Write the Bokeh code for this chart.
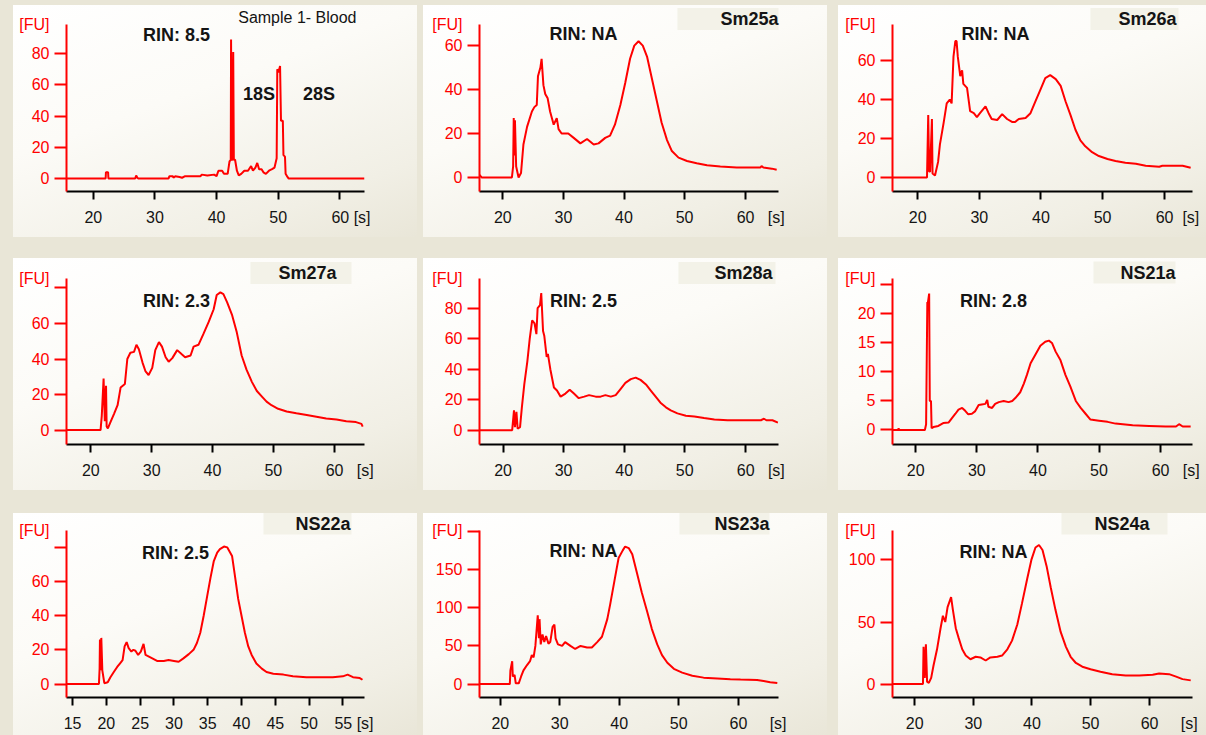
from bokeh.plotting import figure
from bokeh.layouts import column, row
from bokeh.models import Label, Spacer, FixedTicker
from bokeh.embed import file_html
from bokeh.resources import INLINE

# ---------------- data (time [s], fluorescence [FU]) ----------------
blood_trace = [(15.65, 0), (22.0, 0), (22.05, 4), (22.4, 4), (22.45, 0), (26.8, 0), (26.95, 2), (27.15, 0.5),
               (27.3, 0), (32.2, 0), (32.35, 1.5), (32.9, 1.5), (33.0, 0.5), (33.3, 1.5), (34.0, 1), (34.4, 0.5),
               (34.9, 1.5), (37.4, 1.5), (37.6, 2.5), (38.5, 2), (39.6, 2.5), (40.0, 1.5), (40.3, 5), (40.9, 5),
               (41.2, 3), (41.8, 3), (42.1, 11), (42.3, 12), (42.35, 89), (42.45, 12), (42.6, 12), (42.7, 81),
               (42.8, 12), (43.0, 12), (43.3, 5), (43.6, 2), (44.0, 3), (44.5, 5), (45.1, 5), (45.6, 8),
               (45.9, 5), (46.3, 7), (46.6, 10), (46.9, 6), (47.3, 6), (47.6, 4), (48.0, 3), (48.5, 5),
               (49.0, 6), (49.4, 7), (49.75, 13), (49.85, 70), (50.05, 68), (50.3, 72), (50.45, 37), (50.75, 37),
               (50.85, 15), (51.1, 14), (51.2, 3), (51.5, 1), (51.7, 0), (64.0, 0)]

sm25a_trace = [(16.15, 1.2), (16.5, 0), (21.5, 0), (21.7, 5), (21.8, 27), (21.9, 10), (22.0, 26), (22.2, 5),
               (22.6, 0), (23.0, 2), (23.4, 15), (24.0, 23), (24.8, 30), (25.2, 32), (25.6, 33), (25.8, 46),
               (26.2, 50), (26.4, 54), (26.7, 42), (27.0, 38), (27.4, 36), (27.8, 30), (28.4, 24), (28.9, 27),
               (29.2, 22), (29.7, 20), (30.8, 20), (31.7, 18), (32.8, 15.5), (33.9, 17.5), (35.0, 15),
               (35.8, 15.5), (36.9, 18), (37.7, 19), (38.5, 24), (39.4, 33), (40.2, 43), (41.0, 54), (41.7, 60),
               (42.4, 62), (43.1, 60), (43.8, 55), (44.6, 45), (45.4, 35), (46.2, 25), (47.1, 17), (47.9, 12),
               (49.0, 9), (50.4, 7.5), (52.0, 6.5), (53.7, 5.5), (55.9, 5), (58.6, 4.5), (62.5, 4.5),
               (62.7, 5.2), (63.0, 4.5), (64.4, 4), (65.2, 3.5)]

sm26a_trace = [(15.9, 0), (21.5, 0), (21.7, 32), (21.85, 3), (22.0, 3), (22.3, 30), (22.4, 2), (22.8, 1),
               (23.3, 8), (23.6, 17), (24.2, 28), (24.7, 38), (25.2, 40), (25.5, 38), (25.8, 62), (26.1, 70),
               (26.3, 70), (26.5, 62), (26.9, 52), (27.2, 55), (27.4, 48), (28.0, 46), (28.5, 34), (29.1, 33),
               (29.6, 31), (30.1, 33), (31.0, 36.5), (31.5, 33), (32.0, 30), (32.9, 29.5), (33.7, 32.5),
               (34.5, 30), (35.3, 28.5), (35.8, 28.5), (36.4, 30), (37.5, 30.5), (38.3, 33), (39.1, 39),
               (39.9, 45), (40.7, 51), (41.5, 52.5), (42.4, 50.5), (43.2, 47), (44.0, 39), (44.8, 32),
               (45.6, 24.5), (46.4, 19), (47.2, 16), (48.3, 13), (49.4, 11), (50.8, 9.5), (52.1, 8.5),
               (53.7, 7.5), (55.4, 7), (57.0, 6), (59.2, 5.5), (59.7, 6), (63.0, 6), (64.3, 5)]

sm27a_trace = [(16.0, 0), (21.6, 0), (21.8, 8), (22.1, 29), (22.3, 5), (22.5, 25), (22.6, 2), (22.8, 1),
               (23.3, 5), (23.8, 9), (24.4, 14), (24.9, 24), (25.6, 26), (26.0, 40), (26.5, 43.5), (27.1, 44),
               (27.5, 48), (27.9, 45.5), (28.5, 38), (29.0, 33), (29.5, 31), (30.1, 35), (30.6, 45),
               (31.2, 49.5), (31.7, 47), (32.3, 41), (32.8, 38.5), (33.4, 40.5), (34.2, 45), (35.0, 42.5),
               (35.5, 41), (36.4, 42), (36.9, 47), (37.7, 48), (38.5, 54), (39.4, 61), (40.2, 68), (40.7, 76),
               (41.3, 77.5), (41.8, 76.5), (42.4, 72), (43.2, 65), (44.0, 55), (44.8, 42), (45.6, 34),
               (46.5, 27), (47.3, 22), (48.1, 19), (48.9, 16), (49.7, 14), (50.8, 12), (52.2, 10.5),
               (53.8, 9.5), (55.5, 8.5), (57.1, 7.5), (58.7, 6.5), (60.4, 6), (62.0, 5), (63.6, 4.5),
               (64.5, 3.5), (64.7, 2)]

sm28a_trace = [(16.1, 0), (21.5, 0), (21.8, 13), (21.95, 2), (22.2, 12), (22.4, 1), (22.8, 2), (23.1, 15),
               (23.5, 30), (24.0, 45), (24.4, 60), (24.8, 72), (25.2, 70), (25.5, 63), (25.7, 80), (26.1, 82),
               (26.3, 90), (26.6, 65), (26.8, 62), (27.2, 48), (27.4, 50), (27.8, 40), (28.4, 28), (28.9, 26),
               (29.5, 22), (30.3, 24), (31.0, 26.5), (31.7, 24), (32.5, 21), (33.4, 22), (34.2, 23),
               (35.3, 22), (36.1, 22), (36.9, 23), (37.8, 22), (38.6, 23), (39.4, 27), (40.2, 31),
               (41.1, 33.5), (41.9, 34.5), (42.7, 33), (43.6, 30), (44.4, 26), (45.2, 22), (46.0, 18),
               (46.9, 15), (47.7, 13), (48.8, 11), (50.2, 9.5), (51.6, 9), (53.2, 8), (54.9, 7), (57.1, 6.5),
               (59.8, 6.5), (62.6, 6.5), (63.1, 7.5), (63.5, 6.5), (64.5, 6.5), (65.4, 5)]

ns21a_trace = [(16.2, 0), (17.1, 0), (17.2, 0.3), (17.3, 0), (21.5, 0), (21.7, 1), (21.9, 22), (22.0, 22),
               (22.2, 23.5), (22.3, 5), (22.5, 5), (22.6, 0.3), (22.9, 0.5), (23.7, 0.7), (24.5, 1.2),
               (25.4, 1.3), (25.9, 2), (26.5, 2.8), (27.0, 3.5), (27.6, 3.8), (28.1, 3.3), (28.6, 2.7),
               (29.2, 2.8), (29.7, 3.2), (30.3, 4.3), (30.8, 4.4), (31.4, 4.5), (31.7, 5.2), (31.9, 4),
               (32.5, 3.8), (33.0, 4.5), (33.6, 4.8), (34.4, 5), (35.2, 4.8), (35.8, 5), (36.3, 5.5),
               (37.1, 6.5), (37.7, 8), (38.2, 9.5), (38.8, 11.5), (39.6, 13), (40.4, 14.5), (41.2, 15.2),
               (41.8, 15.4), (42.3, 15), (42.9, 13.5), (43.7, 12), (44.5, 9.5), (45.3, 7.5), (46.2, 5),
               (47.0, 3.8), (47.8, 2.8), (48.6, 1.8), (50.0, 1.6), (51.4, 1.4), (52.7, 1.1), (55.5, 0.8),
               (58.2, 0.7), (60.9, 0.6), (62.6, 0.6), (63.1, 1.0), (63.7, 0.6), (65.0, 0.6)]

ns22a_trace = [(14.1, 0), (18.9, 0), (19.0, 9), (19.05, 26), (19.15, 8), (19.25, 27), (19.4, 8), (19.7, 0.5),
               (20.2, 1), (20.6, 4), (21.1, 7), (21.6, 10), (22.0, 12), (22.4, 14), (22.7, 22), (23.0, 24.5),
               (23.3, 21), (23.7, 19), (24.0, 20), (24.3, 19.5), (24.7, 17), (25.1, 19), (25.5, 23.5),
               (25.8, 17), (26.3, 16), (26.8, 15), (27.5, 13.5), (28.5, 13.5), (29.2, 14), (30.0, 13.5),
               (30.7, 13), (31.4, 15), (32.2, 17.5), (32.9, 20), (33.4, 24), (33.9, 30), (34.4, 40),
               (34.9, 51), (35.4, 62), (35.9, 72), (36.4, 77), (36.8, 79), (37.4, 80.5), (37.9, 80),
               (38.6, 75), (39.0, 64), (39.5, 50), (40.0, 40), (40.5, 30), (41.0, 22), (41.5, 17), (42.2, 12),
               (43.0, 9), (43.7, 7), (44.7, 6), (46.2, 5.5), (47.6, 4.5), (49.6, 4), (51.6, 4), (53.5, 4),
               (55.0, 4.5), (55.7, 5.5), (56.5, 4), (57.5, 3.5), (57.9, 2.5)]

ns23a_trace = [(16.5, 0), (21.6, 0), (21.7, 18), (22.0, 30), (22.1, 10), (22.4, 12), (22.6, 1), (23.1, 1),
               (23.5, 10), (23.9, 18), (24.5, 25), (25.0, 30), (25.3, 38), (25.6, 35), (25.9, 50), (26.1, 70),
               (26.3, 90), (26.5, 60), (26.6, 85), (26.8, 52), (27.1, 65), (27.4, 55), (27.7, 63), (28.1, 53),
               (28.4, 55), (28.8, 75), (29.1, 78), (29.3, 60), (29.7, 52), (30.4, 50), (30.9, 55), (31.8, 50),
               (32.6, 46), (33.5, 50), (34.6, 48), (35.4, 48), (36.3, 55), (37.1, 62), (38.0, 85),
               (38.5, 105), (39.2, 135), (39.9, 165), (40.6, 175), (41.0, 180), (41.6, 178), (42.2, 170),
               (43.0, 145), (43.8, 120), (44.7, 95), (45.5, 72), (46.4, 52), (47.2, 38), (48.1, 28),
               (49.2, 20), (50.6, 15), (52.3, 11), (54.2, 8.5), (56.5, 7.5), (58.7, 6.5), (60.4, 6),
               (63.2, 5.5), (64.3, 4), (65.4, 2.5), (66.6, 1.5)]

ns24a_trace = [(16.2, 0), (21.4, 0), (21.5, 30), (21.7, 5), (21.9, 32), (22.1, 2), (22.4, 1), (22.8, 5),
               (23.2, 15), (23.8, 28), (24.4, 45), (24.8, 55), (25.2, 50), (25.6, 62), (25.9, 66), (26.2, 70),
               (26.5, 60), (27.0, 45), (27.5, 37), (28.1, 28), (28.7, 23), (29.5, 20), (30.4, 22),
               (31.2, 21.5), (32.1, 19), (32.9, 21.5), (34.1, 22), (34.9, 23), (35.8, 28), (36.6, 35),
               (37.5, 48), (38.3, 65), (39.2, 85), (39.9, 100), (40.6, 110), (41.2, 112), (41.8, 108),
               (42.5, 95), (43.2, 78), (44.0, 60), (44.9, 42), (45.8, 30), (46.6, 22), (47.5, 17), (48.6, 14),
               (50.0, 12), (51.7, 10), (53.7, 8), (56.0, 7), (58.3, 7), (60.6, 7.5), (61.7, 8.5), (63.4, 8),
               (64.6, 6), (65.7, 4), (67.1, 3)]

sample_names = ["Sample 1- Blood", "Sm25a", "Sm26a", "Sm27a", "Sm28a", "NS21a", "NS22a", "NS23a", "NS24a"]
rin_texts = ["RIN: 8.5", "RIN: NA", "RIN: NA", "RIN: 2.3", "RIN: 2.5", "RIN: 2.8", "RIN: 2.5", "RIN: NA", "RIN: NA"]
traces = [blood_trace, sm25a_trace, sm26a_trace, sm27a_trace, sm28a_trace,
          ns21a_trace, ns22a_trace, ns23a_trace, ns24a_trace]
x_limits = [(15.65, 64.0), (16.15, 65.5), (15.9, 64.6), (16.0, 65.0), (16.1, 65.5),
            (16.2, 65.3), (14.1, 58.2), (16.5, 66.8), (16.2, 67.4)]
y_limits = [(-8.3, 98.6), (-6.4, 69.6), (-7.2, 78.5), (-8.1, 85.3), (-9.4, 99.5),
            (-2.5, 26.1), (-7.9, 89.9), (-17.5, 201.0), (-10.8, 123.7)]
y_ticks = [[0, 20, 40, 60, 80], [0, 20, 40, 60], [0, 20, 40, 60], [0, 20, 40, 60, 80], [0, 20, 40, 60, 80],
           [0, 5, 10, 15, 20, 25], [0, 20, 40, 60, 80], [0, 50, 100, 150, 200], [0, 50, 100]]
y_unlabeled = [None, None, None, 80, None, 25, 80, 200, None]
x_ticks_std = [20, 30, 40, 50, 60]
x_ticks_ns22a = [15, 20, 25, 30, 35, 40, 45, 50, 55]
peak_names = ["18S", "28S"]
y_unit = "[FU]"
x_unit = "[s]"

# ---------------- layout / style ----------------
BEIGE = "#e9e6d7"
PANEL_BG = "linear-gradient(160deg, #ffffff 0%, #fcfbf7 40%, #f1efe5 80%, #e9e6d8 100%)"
RED = "#ff0000"
INK = "#141414"
FONT = "Liberation Sans"
NBSP = "\u00a0"
NBSP_W = 0.278 * 16      # px, width of a no-break space at 16px
HALF_NUM_W = 0.556 * 16  # px, half width of a two digit label

COL_W = [404, 404, 368]
COL_BL = [53, 56, 54]
COL_FW = [298, 299, 300]
COL_BR = [53, 49, 14]
ROW_H = [232, 232, 222]
ROW_BT = [19, 20, 17]
ROW_FH = [167, 166, 167]
ROW_BB = [46, 46, 38]
X_STANDOFF = 9

RIN_POS = [(110, 10), (104, 9.5), (103, 9), (110, 22), (104, 22), (101, 22), (109, 22), (104, 20), (101, 21)]
NAME_SHIFT_LEFT = [8, 0, 14, 13, 3, 17, 13, 9, 25]
NAME_STANDOFF = [-3, -11, -11, -11, -11, -10, -8, -8, -8]
NAME_PAD = [(0, 0), (43, 0), (28, 2), (28, 15), (36, 3), (27, 0), (32, 1), (35, 0), (33, 18)]


def make_panel(i):
    r, c = divmod(i, 3)
    xr, yr = x_limits[i], y_limits[i]
    fw, fh = COL_FW[c], ROW_FH[r]

    def txt(dx, dy, text, **kw):
        return Label(x=dx, y=fh - dy, x_units="screen", y_units="screen", text=text,
                     text_font=FONT, text_baseline="middle", **kw)

    p = figure(width=COL_W[c], height=ROW_H[r], x_range=xr, y_range=yr,
               output_backend="svg", toolbar_location=None, tools="",
               min_border_left=COL_BL[c], min_border_right=COL_BR[c],
               min_border_top=ROW_BT[r], min_border_bottom=ROW_BB[r],
               styles={"background": PANEL_BG})
    p.border_fill_color = None
    p.background_fill_color = None
    p.outline_line_color = None
    p.grid.visible = False

    t = [pt[0] for pt in traces[i]]
    fu = [pt[1] for pt in traces[i]]
    p.line(t, fu, line_color=RED, line_width=2)

    # ---- x axis; the unit "[s]" rides on the last tick label, right of the number
    xt = x_ticks_ns22a if i == 6 else x_ticks_std
    last = xt[-1]
    dist = (xr[1] - last) * fw / (xr[1] - xr[0])          # px from last tick to frame end
    n_gap = max(0, round((dist - HALF_NUM_W - 10) / NBSP_W))
    xa = p.xaxis[0]
    xa.ticker = FixedTicker(ticks=xt)
    xa.major_label_overrides = {last: NBSP * (n_gap + 4) + str(last) + NBSP * n_gap + x_unit}
    xa.axis_line_color = "#000000"
    xa.axis_line_width = 2
    xa.major_tick_line_color = "#000000"
    xa.major_tick_line_width = 2
    xa.major_tick_out = 8
    xa.major_tick_in = 0
    xa.minor_tick_line_color = None
    xa.major_label_standoff = X_STANDOFF
    xa.major_label_text_font = FONT
    xa.major_label_text_font_size = "16px"
    xa.major_label_text_color = INK

    # ---- y axis; tick marks drawn as minor ticks, labels (and "[FU]" at the top) as major
    top = yr[1] - 0.002 * (yr[1] - yr[0])
    labeled = [v for v in y_ticks[i] if v != y_unlabeled[i]]
    ya = p.yaxis[0]
    ya.ticker = FixedTicker(ticks=labeled + [top], minor_ticks=y_ticks[i])
    ya.major_label_overrides = {top: y_unit}
    ya.axis_line_color = RED
    ya.axis_line_width = 2
    ya.major_tick_line_color = None
    ya.major_tick_out = 12
    ya.major_tick_in = 0
    ya.minor_tick_line_color = RED
    ya.minor_tick_line_width = 2
    ya.minor_tick_out = 12
    ya.minor_tick_in = 0
    ya.major_label_standoff = 5
    ya.major_label_text_font = FONT
    ya.major_label_text_font_size = "16px"
    ya.major_label_text_color = RED

    # ---- RIN value (inside the frame)
    rx, ry = RIN_POS[i]
    p.add_layout(txt(rx, ry, rin_texts[i], text_font_size="18px", text_font_style="bold",
                     text_color=INK, text_align="center"))

    # ---- sample name as the plot title, right aligned (offset > 0 moves it left)
    p.title.text = sample_names[i]
    p.title.align = "right"
    p.title.offset = NAME_SHIFT_LEFT[i]
    p.title.standoff = NAME_STANDOFF[i]
    p.title.text_font = FONT
    p.title.text_color = INK
    if i == 0:
        p.title.text_font_size = "16px"
        p.title.text_font_style = "normal"
        for name, dx in zip(peak_names, (192.5, 252.5)):
            p.add_layout(txt(dx, 69, name, text_font_size="18px", text_font_style="bold",
                             text_color=INK, text_align="center"))
    else:
        pl, pr = NAME_PAD[i]
        p.title.text_font_size = "18px"
        p.title.text_font_style = "bold"
        p.title.background_fill_color = "#f3f2e8"
        p.title.padding = dict(left=pl, right=pr, top=1, bottom=1)
    return p


panels = [make_panel(i) for i in range(9)]


def panel_row(k):
    a, b, c = panels[3 * k:3 * k + 3]
    h = ROW_H[k]
    return row(Spacer(width=13, height=h), a, Spacer(width=6, height=h), b,
               Spacer(width=11, height=h), c)


page = column(Spacer(width=1206, height=5), panel_row(0), Spacer(width=1206, height=21), panel_row(1),
              Spacer(width=1206, height=23), panel_row(2),
              styles={"background-color": BEIGE})

open("out.html", "w").write(file_html(page, INLINE))
